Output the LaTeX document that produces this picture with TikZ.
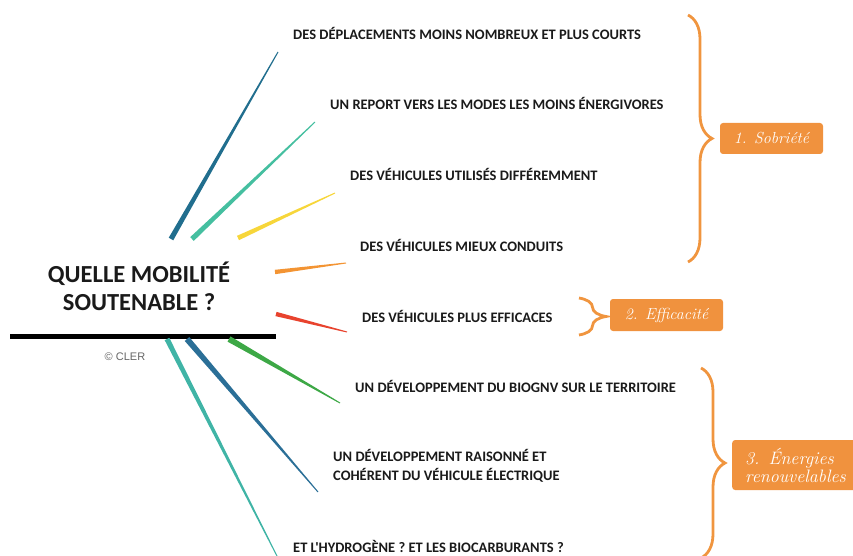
\documentclass[tikz,border=0pt]{standalone}
\usepackage{fontspec}
\newfontfamily\labfont{Carlito}
\newfontfamily\clerfont{Liberation Sans}
\usetikzlibrary{calc,decorations.pathreplacing}
\definecolor{orbrace}{HTML}{F0953F}
\definecolor{orbox}{HTML}{F0923E}
\definecolor{cA}{HTML}{216E8E}
\definecolor{cB}{HTML}{45BFA0}
\definecolor{cC}{HTML}{F7D63A}
\definecolor{cD}{HTML}{F39433}
\definecolor{cE}{HTML}{E8432E}
\definecolor{cF}{HTML}{3DA846}
\definecolor{cG}{HTML}{2B6F97}
\definecolor{cH}{HTML}{40B4A6}
\definecolor{txt}{HTML}{1A1A1A}
\newcommand\wedgeline[4]{\fill[#1] ($(#2)!#4!90:(#3)$) -- ($(#3)!0.5pt!-90:(#2)$) -- ($(#3)!0.5pt!90:(#2)$) -- ($(#2)!#4!-90:(#3)$) -- cycle;}
\begin{document}
\begin{tikzpicture}[x=1pt,y=-1pt,
  lab/.style={anchor=west,inner sep=0pt,font=\labfont\bfseries\fontsize{14.5}{19}\selectfont,text=txt,align=left},
  bracestyle/.style={draw=orbrace,line width=2.8pt,decorate},
  catbox/.style={fill=orbox,rounded corners=3pt,text=white,font=\itshape\fontsize{16}{16}\selectfont,inner sep=0pt}]
\useasboundingbox (0,0) rectangle (853,556);
\clip (0,0) rectangle (853,556);
% title
\node[font=\labfont\bfseries\fontsize{24.5}{28}\selectfont,text=txt,align=center,inner sep=0pt] (title) at (139,286) {QUELLE MOBILITÉ\\SOUTENABLE ?};
\coordinate (bl) at (10,336);
\coordinate (br) at (276,336);
\draw[line width=5pt,black] (bl) -- (br);
\node[font=\clerfont\fontsize{11}{12}\selectfont,text=gray!80!black,inner sep=0pt] (cler) at (125,357) {© CLER};
% labels
\node[lab] (l1) at (293,33) {DES DÉPLACEMENTS MOINS NOMBREUX ET PLUS COURTS};
\node[lab] (l2) at (330,103) {UN REPORT VERS LES MODES LES MOINS ÉNERGIVORES};
\node[lab] (l3) at (350,174) {DES VÉHICULES UTILISÉS DIFFÉREMMENT};
\node[lab] (l4) at (360,245) {DES VÉHICULES MIEUX CONDUITS};
\node[lab] (l5) at (362,316) {DES VÉHICULES PLUS EFFICACES};
\node[lab] (l6) at (355,386) {UN DÉVELOPPEMENT DU BIOGNV SUR LE TERRITOIRE};
\node[lab] (l7) at (333,466) {UN DÉVELOPPEMENT RAISONNÉ ET\\COHÉRENT DU VÉHICULE ÉLECTRIQUE};
\node[lab] (l8) at (293,546) {ET L'HYDROGÈNE ? ET LES BIOCARBURANTS ?};
% rays
\coordinate (s1) at (171,239); \coordinate (e1) at (278,52);
\coordinate (s2) at (192,239); \coordinate (e2) at (315,122);
\coordinate (s3) at (238,238); \coordinate (e3) at (335,193);
\coordinate (s4) at (275,272); \coordinate (e4) at (346,263);
\coordinate (s5) at (276,314); \coordinate (e5) at (347,332);
\coordinate (s6) at (229,339); \coordinate (e6) at (340,403);
\coordinate (s7) at (187,339); \coordinate (e7) at (318,492);
\coordinate (s8) at (167,339); \coordinate (e8) at (278,558);
\wedgeline{cA}{s1}{e1}{2.6pt}
\wedgeline{cB}{s2}{e2}{2.6pt}
\wedgeline{cC}{s3}{e3}{2.4pt}
\wedgeline{cD}{s4}{e4}{2.2pt}
\wedgeline{cE}{s5}{e5}{2.2pt}
\wedgeline{cF}{s6}{e6}{3pt}
\wedgeline{cG}{s7}{e7}{3pt}
\wedgeline{cH}{s8}{e8}{2.6pt}
% braces
\draw[bracestyle,decoration={brace,amplitude=24pt,aspect=0.5}] (688,15) -- (688,262);
\draw[bracestyle,decoration={brace,amplitude=27pt,aspect=0.5}] (579,298) -- (579,335);
\draw[bracestyle,decoration={brace,amplitude=24pt,aspect=0.5}] (701,368) -- (701,558);
% boxes
\node[catbox,minimum width=103pt,minimum height=31pt] (b1) at (771.5,138.5) {1. Sobriété};
\node[catbox,minimum width=113pt,minimum height=32pt] (b2) at (666.5,315) {2. Efficacité};
\node[catbox,anchor=west,minimum width=135pt,minimum height=50pt,text width=122pt,align=left,inner xsep=13pt,font=\itshape\fontsize{18}{18}\selectfont] (b3) at (732,465) {3. Énergies\\renouvelables};
\end{tikzpicture}
\end{document}
